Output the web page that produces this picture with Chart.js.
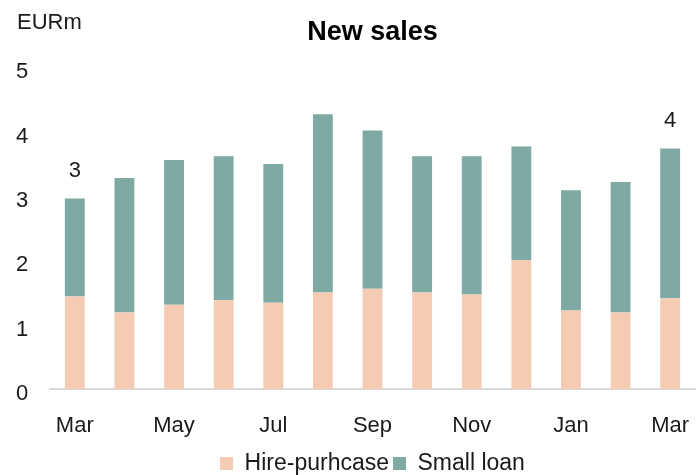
<!DOCTYPE html>
<html>
<head>
<meta charset="utf-8">
<title>New sales</title>
<script src="https://cdn.jsdelivr.net/npm/chart.js@4/dist/chart.umd.min.js"></script>
<style>
  html, body { margin: 0; padding: 0; background: #fff; }
  #wrap { width: 696px; height: 475px; position: relative; }
</style>
</head>
<body>
<div id="wrap"><canvas id="salesChart"></canvas></div>
<script>
// ─── Data ─────────────────────────────────────────────
const months = ['Mar', 'Apr', 'May', 'Jun', 'Jul', 'Aug', 'Sep', 'Oct', 'Nov', 'Dec', 'Jan', 'Feb', 'Mar'];
const hirePurchase = [1.44, 1.19, 1.31, 1.38, 1.34, 1.50, 1.56, 1.50, 1.47, 2.00, 1.22, 1.19, 1.41];
const smallLoan    = [1.52, 2.09, 2.25, 2.24, 2.16, 2.77, 2.46, 2.12, 2.15, 1.77, 1.87, 2.03, 2.33];
const yTicks = [0, 1, 2, 3, 4, 5];
const labelledBars = [0, 12]; // totals printed above these bars

const FONT = '"Liberation Sans", Arial, Helvetica, sans-serif';
const INK = '#1a1a1a';

// Unit caption + rounded totals above selected bars
const annotations = {
    id: 'annotations',
    afterDatasetsDraw(chart) {
        const ctx = chart.ctx;
        ctx.save();
        ctx.fillStyle = INK;
        ctx.font = '22px ' + FONT;
        ctx.textBaseline = 'middle';
        ctx.textAlign = 'left';
        ctx.fillText('EURm', 17, 23);

        ctx.textAlign = 'center';
        const top = chart.getDatasetMeta(1).data;
        labelledBars.forEach(i => {
            const total = hirePurchase[i] + smallLoan[i];
            ctx.fillText(String(Math.round(total)), top[i].x, top[i].y - 28);
        });
        ctx.restore();
    }
};

new Chart(document.getElementById('salesChart'), {
    type: 'bar',
    data: {
        labels: months,
        datasets: [
            { label: 'Hire-purhcase', data: hirePurchase, backgroundColor: '#f5cbb4', barPercentage: 0.4, categoryPercentage: 1 },
            { label: 'Small loan', data: smallLoan, backgroundColor: '#7fa9a3', barPercentage: 0.4, categoryPercentage: 1 }
        ]
    },
    options: {
        responsive: true,
        maintainAspectRatio: false,
        animation: false,
        layout: { padding: { top: 16, left: 16, right: 1, bottom: -10 } },
        scales: {
            x: {
                stacked: true,
                afterFit: scale => {
                    scale.height = 59;
                    scale.paddingLeft = 0;
                    scale.paddingRight = 0;
                },
                grid: { display: false, drawTicks: false },
                border: { display: true, color: '#d9d9d9', width: 2 },
                ticks: {
                    autoSkip: false,
                    maxRotation: 0,
                    padding: 24,
                    color: INK,
                    font: { family: FONT, size: 22 },
                    callback: function(value, index) {
                        return index % 2 === 0 ? this.getLabelForValue(value) : '';
                    }
                }
            },
            y: {
                stacked: true,
                min: 0,
                max: 5,
                afterBuildTicks: scale => { scale.ticks = yTicks.map(v => ({ value: v })); },
                afterFit: scale => { scale.width = 34; },
                grid: { display: false, drawTicks: false },
                border: { display: false },
                ticks: {
                    crossAlign: 'far',
                    labelOffset: 5,
                    color: INK,
                    font: { family: FONT, size: 22 }
                }
            }
        },
        plugins: {
            title: {
                display: true,
                text: 'New sales',
                fullSize: false,
                color: '#000',
                font: { family: FONT, size: 27, weight: 'bold' },
                padding: { top: 0, bottom: 19 }
            },
            legend: {
                position: 'bottom',
                fullSize: false,
                labels: {
                    boxWidth: 13,
                    boxHeight: 13,
                    padding: 4,
                    color: INK,
                    font: { family: FONT, size: 23 }
                }
            },
            tooltip: { enabled: false }
        }
    },
    plugins: [annotations]
});
</script>
</body>
</html>
